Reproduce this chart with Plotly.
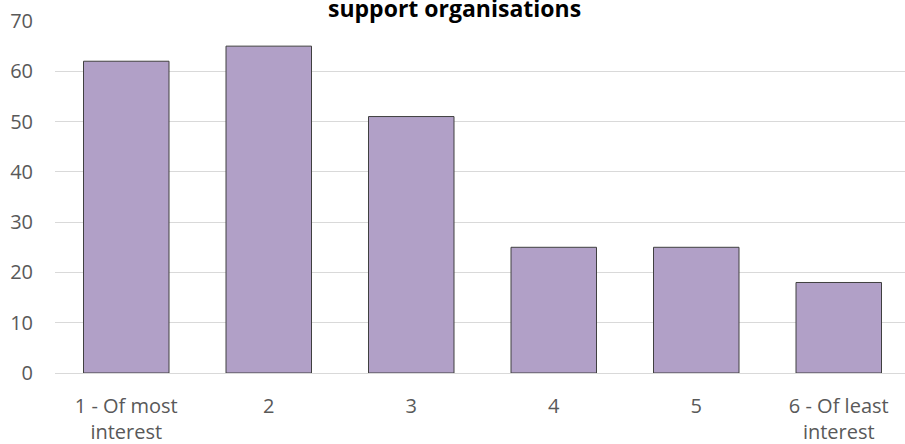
import plotly.graph_objects as go

categories = ["1 - Of most<br>interest", "2", "3", "4", "5", "6 - Of least<br>interest"]
values = [62, 65, 51, 25, 25, 18]
y_ticks = [0, 10, 20, 30, 40, 50, 60, 70]
title_text = "support organisations"

fig = go.Figure(go.Bar(
    x=categories, y=values,
    marker=dict(color="#b1a0c7", line=dict(color="#404040", width=1)),
))

fig.update_layout(
    width=910, height=444,
    margin=dict(l=55, r=0, t=21, b=71),
    plot_bgcolor="white", paper_bgcolor="white",
    bargap=0.4,
    showlegend=False,
    font=dict(family="Open Sans", size=20, color="#595959"),
    annotations=[dict(
        text="<b>" + title_text + "</b>", x=0.467, xref="paper",
        y=1.036, yref="paper", yanchor="middle", showarrow=False,
        font=dict(family="Open Sans", size=23, color="#000000"),
    )],
)
fig.update_xaxes(
    showline=True, linecolor="#d9d9d9", linewidth=1, automargin=False,
    ticks="", ticklabelstandoff=15, tickfont=dict(size=20, color="#595959"),
)
fig.update_yaxes(
    range=[0, 70], tickvals=y_ticks, showgrid=True, gridcolor="#d9d9d9",
    zeroline=False, showline=False, ticklabelstandoff=21, automargin=False,
    tickfont=dict(size=20, color="#595959"),
)

fig.write_html(
    "out.html",
    config={"displayModeBar": False},
    post_script="document.body.style.margin='0';document.body.style.overflow='hidden';",
)
